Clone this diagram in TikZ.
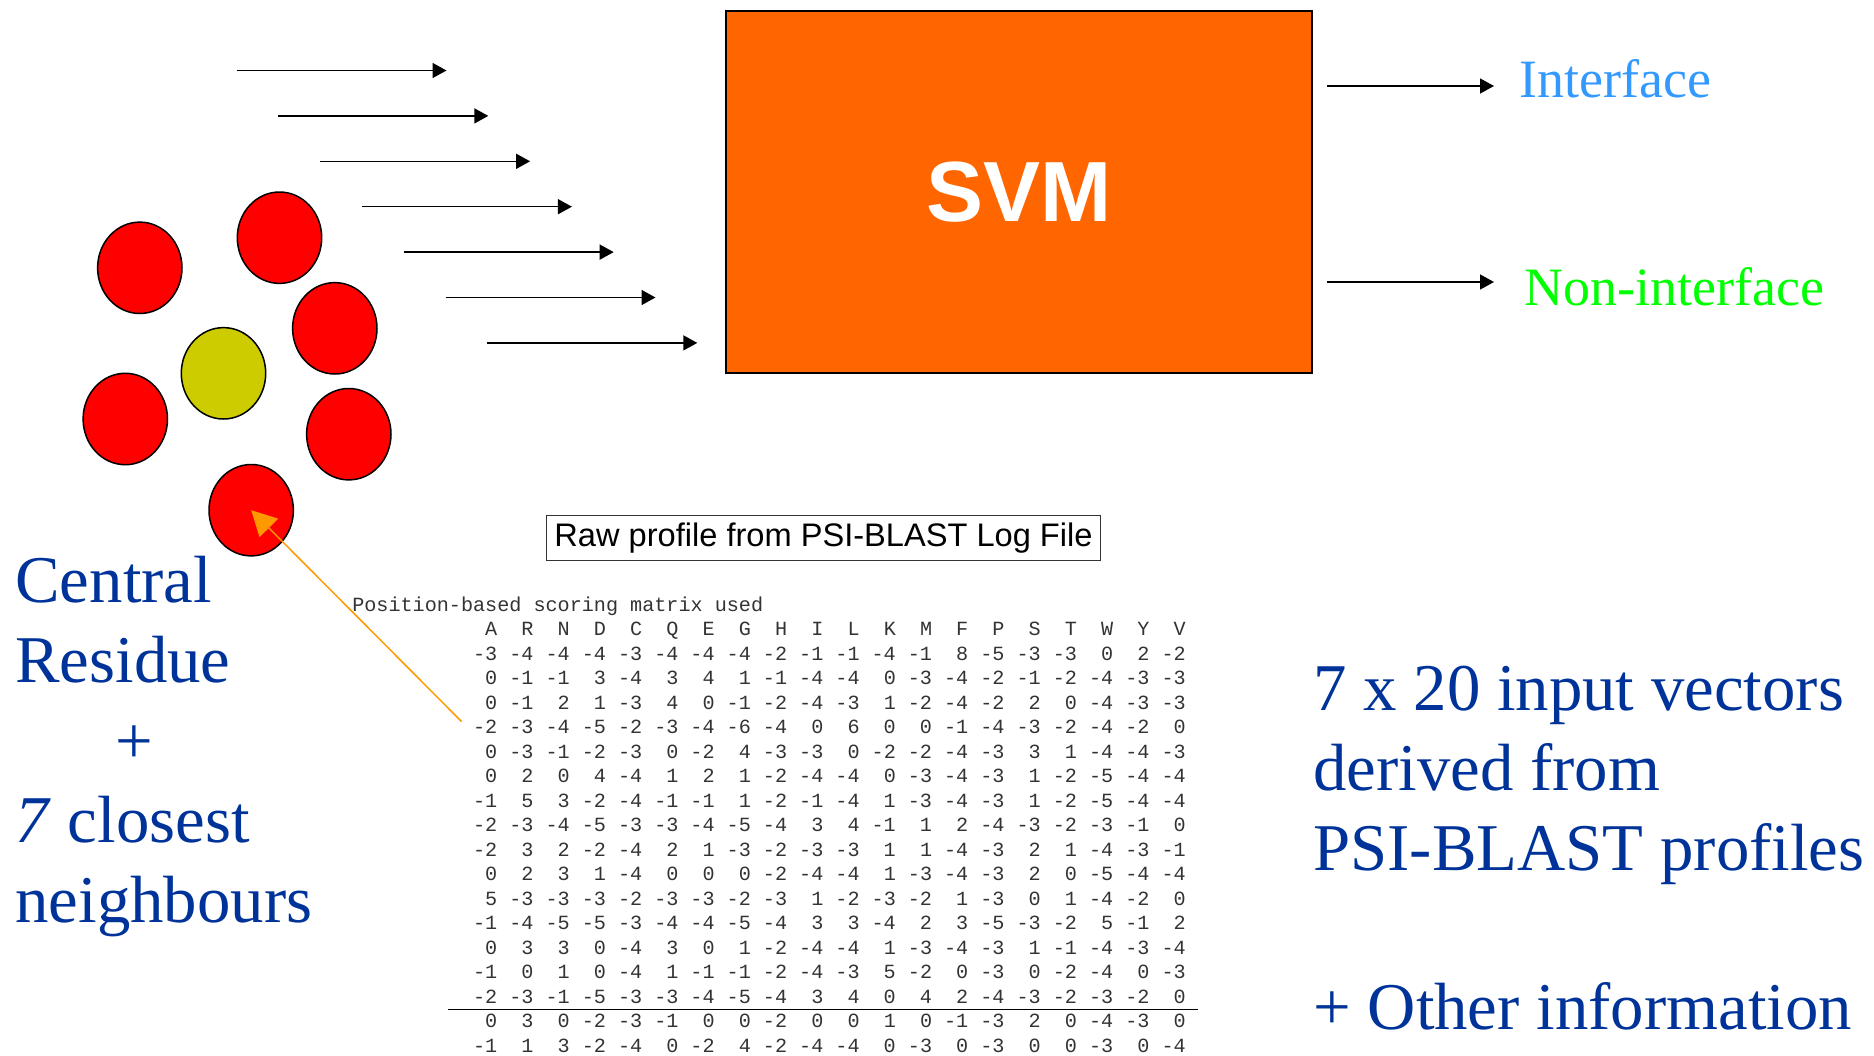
\documentclass[tikz,border=0pt]{standalone}
\usepackage{fontspec}
\setmainfont{Liberation Serif}
\newfontfamily\sansarial{Liberation Sans}
\newfontfamily\monocour{Liberation Mono}
\usetikzlibrary{arrows.meta,shapes.geometric}

\definecolor{svmorange}{HTML}{FF6600}
\definecolor{resred}{HTML}{FF0000}
\definecolor{resyellow}{HTML}{CCCC00}
\definecolor{ifblue}{HTML}{3399FF}
\definecolor{nongreen}{HTML}{00FF00}
\definecolor{navy}{HTML}{003399}
\definecolor{pointer}{HTML}{FF9900}

% one row of the scoring matrix: every entry right-aligned in a 3-character field
\newcommand\pssmrow[1]{\foreach \v in {#1}{\makebox[18.12pt][r]{\v}}}

\tikzset{
  residue/.style={ellipse, draw=black, line width=0.75pt, minimum width=42.2pt, minimum height=45.7pt, inner sep=0pt},
  feed/.style={line width=0.75pt, -{Triangle[length=7pt,width=7.5pt]}},
  bigtext/.style={anchor=base west, inner sep=0pt, text=navy, font=\fontsize{33.4pt}{38pt}\selectfont},
  labeltext/.style={anchor=base west, inner sep=0pt, font=\fontsize{27pt}{30pt}\selectfont},
  pssm/.style={anchor=base west, inner sep=0pt, font=\monocour\fontsize{10.07pt}{12pt}\selectfont, text=black!80}
}

\begin{document}
\begin{tikzpicture}[x=0.5pt, y=-0.5pt]
\useasboundingbox (0,0) rectangle (1874,1055);

% classifier
\node[draw=black, line width=1pt, fill=svmorange, minimum width=293pt, minimum height=181pt,
      inner sep=0pt, text=white, font=\sansarial\bfseries\fontsize{42.7pt}{48pt}\selectfont]
      (svm) at (1019,192) {SVM};

% input vectors
\foreach \i in {0,...,6}{
  \coordinate (ins\i) at ({236.6+41.8*\i},{70.5+45.4*\i});
  \coordinate (ine\i) at ({446.5+41.8*\i},{70.5+45.4*\i});
  \draw[feed] (ins\i) -- (ine\i);
}

% outputs
\coordinate (outsA) at (1326.5,86);
\coordinate (outeA) at (1494,86);
\coordinate (outsB) at (1326.5,282);
\coordinate (outeB) at (1494,282);
\draw[feed] (outsA) -- (outeA);
\draw[feed] (outsB) -- (outeB);
\node[labeltext, text=ifblue] (iface) at (1519,97.3) {Interface};
\node[labeltext, text=nongreen] (noniface) at (1524,305) {Non-interface};

% residue cluster
\node[residue, fill=resred] (c1) at (139.8,267.8) {};
\node[residue, fill=resred] (c2) at (279.5,237.7) {};
\node[residue, fill=resred] (c3) at (334.8,328.3) {};
\node[residue, fill=resyellow] (c4) at (223.5,373.3) {};
\node[residue, fill=resred] (c5) at (125.3,419.0) {};
\node[residue, fill=resred] (c6) at (348.8,434.2) {};
\node[residue, fill=resred] (c7) at (251.2,510.2) {};

% left caption
\node[bigtext] (t1) at (15,602.3) {Central};
\node[bigtext] (t2) at (15,682.7) {Residue};
\node[bigtext, anchor=base] (t3) at (134,763) {+};
\node[bigtext] (t4) at (15,842.3) {\textit{7} closest};
\node[bigtext] (t5) at (15,922.3) {neighbours};

% right caption
\node[bigtext] (u1) at (1313,710) {7 x 20 input vectors};
\node[bigtext] (u2) at (1313,790) {derived from};
\node[bigtext] (u3) at (1313,870) {PSI-BLAST profiles};
\node[bigtext] (u4) at (1313,1029) {+ Other information};

% profile title
\node[draw=black!80, line width=0.5pt, minimum width=277.25pt, minimum height=22.7pt, inner sep=0pt,
      font=\sansarial\fontsize{16.3pt}{18pt}\selectfont] (raw) at (823.5,537.8)
      {Raw profile from PSI-BLAST Log File};

% scoring matrix
\node[pssm] (hdr) at (351.9,611.7) {Position-based scoring matrix used};
\node[pssm] (aa)  at (460.6,635.7) {\pssmrow{A,R,N,D,C,Q,E,G,H,I,L,K,M,F,P,S,T,W,Y,V}};
\node[pssm] (r1)  at (460.6,660.2) {\pssmrow{-3,-4,-4,-4,-3,-4,-4,-4,-2,-1,-1,-4,-1,8,-5,-3,-3,0,2,-2}};
\node[pssm] (r2)  at (460.6,684.7) {\pssmrow{0,-1,-1,3,-4,3,4,1,-1,-4,-4,0,-3,-4,-2,-1,-2,-4,-3,-3}};
\node[pssm] (r3)  at (460.6,709.2) {\pssmrow{0,-1,2,1,-3,4,0,-1,-2,-4,-3,1,-2,-4,-2,2,0,-4,-3,-3}};
\node[pssm] (r4)  at (460.6,733.7) {\pssmrow{-2,-3,-4,-5,-2,-3,-4,-6,-4,0,6,0,0,-1,-4,-3,-2,-4,-2,0}};
\node[pssm] (r5)  at (460.6,758.2) {\pssmrow{0,-3,-1,-2,-3,0,-2,4,-3,-3,0,-2,-2,-4,-3,3,1,-4,-4,-3}};
\node[pssm] (r6)  at (460.6,782.7) {\pssmrow{0,2,0,4,-4,1,2,1,-2,-4,-4,0,-3,-4,-3,1,-2,-5,-4,-4}};
\node[pssm] (r7)  at (460.6,807.2) {\pssmrow{-1,5,3,-2,-4,-1,-1,1,-2,-1,-4,1,-3,-4,-3,1,-2,-5,-4,-4}};
\node[pssm] (r8)  at (460.6,831.7) {\pssmrow{-2,-3,-4,-5,-3,-3,-4,-5,-4,3,4,-1,1,2,-4,-3,-2,-3,-1,0}};
\node[pssm] (r9)  at (460.6,856.2) {\pssmrow{-2,3,2,-2,-4,2,1,-3,-2,-3,-3,1,1,-4,-3,2,1,-4,-3,-1}};
\node[pssm] (r10) at (460.6,880.7) {\pssmrow{0,2,3,1,-4,0,0,0,-2,-4,-4,1,-3,-4,-3,2,0,-5,-4,-4}};
\node[pssm] (r11) at (460.6,905.2) {\pssmrow{5,-3,-3,-3,-2,-3,-3,-2,-3,1,-2,-3,-2,1,-3,0,1,-4,-2,0}};
\node[pssm] (r12) at (460.6,929.7) {\pssmrow{-1,-4,-5,-5,-3,-4,-4,-5,-4,3,3,-4,2,3,-5,-3,-2,5,-1,2}};
\node[pssm] (r13) at (460.6,954.2) {\pssmrow{0,3,3,0,-4,3,0,1,-2,-4,-4,1,-3,-4,-3,1,-1,-4,-3,-4}};
\node[pssm] (r14) at (460.6,978.7) {\pssmrow{-1,0,1,0,-4,1,-1,-1,-2,-4,-3,5,-2,0,-3,0,-2,-4,0,-3}};
\node[pssm] (r15) at (460.6,1003.2) {\pssmrow{-2,-3,-1,-5,-3,-3,-4,-5,-4,3,4,0,4,2,-4,-3,-2,-3,-2,0}};
\node[pssm] (r16) at (460.6,1027.7) {\pssmrow{0,3,0,-2,-3,-1,0,0,-2,0,0,1,0,-1,-3,2,0,-4,-3,0}};
\node[pssm] (r17) at (460.6,1052.2) {\pssmrow{-1,1,3,-2,-4,0,-2,4,-2,-4,-4,0,-3,0,-3,0,0,-3,0,-4}};

% separator inside the matrix
\coordinate (sepL) at (448.3,1009.5);
\coordinate (sepR) at (1198.3,1009.5);
\draw[line width=0.6pt] (sepL) -- (sepR);

% pointer from the matrix to the central residue's neighbour
\coordinate (ptr) at (461.7,721.7);
\draw[pointer, line width=0.75pt, -{Triangle[length=12.5pt,width=13pt]}] (ptr) -- (c7.center);
\end{tikzpicture}
\end{document}
